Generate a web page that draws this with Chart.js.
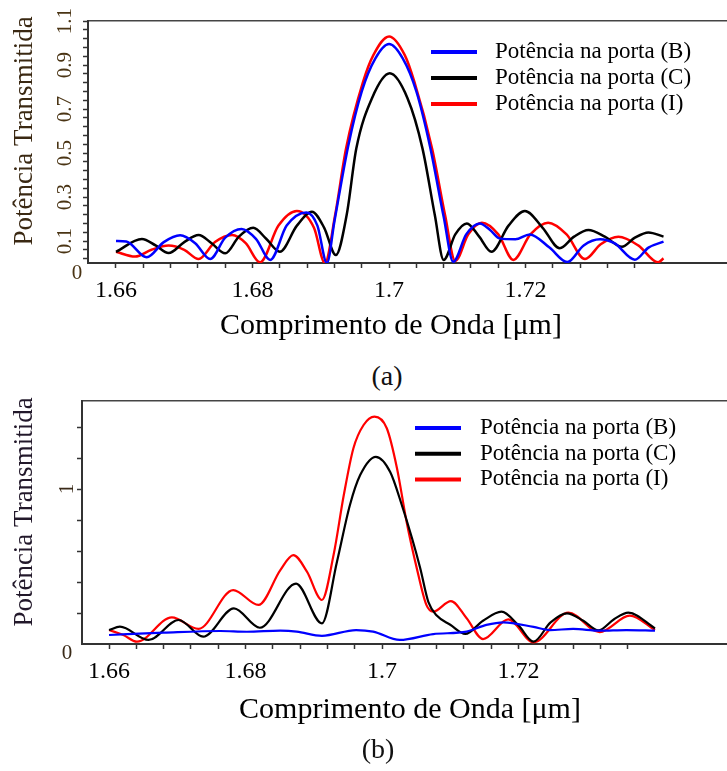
<!DOCTYPE html>
<html>
<head>
<meta charset="utf-8">
<script src="https://cdn.jsdelivr.net/npm/chart.js@4.4.0/dist/chart.umd.min.js"></script>
<style>
  body { margin: 0; background: #fff; width: 727px; height: 771px; position: relative; overflow: hidden; font-family: "Liberation Serif", serif; }
  canvas { position: absolute; left: 0; }
  #chartA { top: 0; }
  #chartB { top: 390px; }
  .cap { position: absolute; font-size: 28px; color: #111; transform: translate(-50%, -50%); }
</style>
</head>
<body>
<canvas id="chartA" width="727" height="350"></canvas>
<div class="cap" style="left:387px; top:376px">(a)</div>
<canvas id="chartB" width="727" height="350"></canvas>
<div class="cap" style="left:378px; top:749px">(b)</div>
<script>
// series labels
const seriesNames = ["Potência na porta (B)", "Potência na porta (C)", "Potência na porta (I)"];

// tick labels
const xTickLabels = ["1.66", "1.68", "1.7", "1.72"];
const yTickLabelsA = ["0.1", "0.3", "0.5", "0.7", "0.9", "1.1"];
const yTickLabelsB = ["1"];

// ---- chart (a) ----
const lambdaA_B = [1.66, 1.6615, 1.6645, 1.667, 1.6694, 1.6716, 1.6738, 1.676, 1.6784, 1.6805, 1.6826, 1.685, 1.6879, 1.6895, 1.6909,
  1.692, 1.694, 1.696, 1.698, 1.700, 1.702, 1.704, 1.706, 1.708, 1.7094, 1.7113, 1.7133, 1.7148, 1.7162, 1.7185, 1.7206, 1.7235,
  1.7261, 1.7285, 1.7309, 1.733, 1.736, 1.738, 1.7402];
const powerA_B = [0.10, 0.098, 0.026, 0.095, 0.126, 0.09, 0.018, 0.115, 0.155, 0.11, 0.014, 0.17, 0.23, 0.17, 0.0,
  0.19, 0.53, 0.78, 0.93, 0.995, 0.93, 0.78, 0.53, 0.21, 0.006, 0.13, 0.18, 0.15, 0.112, 0.108, 0.13, 0.07,
  0.004, 0.08, 0.108, 0.09, 0.015, 0.07, 0.097];

const lambdaA_C = [1.66, 1.6638, 1.6658, 1.6677, 1.670, 1.6721, 1.674, 1.676, 1.678, 1.6801, 1.682, 1.684, 1.6865, 1.6887, 1.6905,
  1.6922, 1.6938, 1.6952, 1.6975, 1.7001, 1.7027, 1.7049, 1.7067, 1.708, 1.7097, 1.7114, 1.7132, 1.715, 1.7175, 1.7199, 1.7225,
  1.725, 1.7271, 1.7292, 1.7316, 1.7341, 1.736, 1.738, 1.7402];
const powerA_C = [0.051, 0.109, 0.08, 0.045, 0.095, 0.127, 0.09, 0.044, 0.12, 0.16, 0.11, 0.051, 0.17, 0.233, 0.16,
  0.036, 0.22, 0.52, 0.749, 0.862, 0.749, 0.52, 0.218, 0.014, 0.13, 0.18, 0.12, 0.051, 0.17, 0.236, 0.16,
  0.067, 0.12, 0.15, 0.12, 0.074, 0.115, 0.139, 0.12];

const lambdaA_I = [1.66, 1.6628, 1.6652, 1.6677, 1.670, 1.6721, 1.6745, 1.677, 1.679, 1.6811, 1.6838, 1.6865, 1.689, 1.6906,
  1.6921, 1.6937, 1.6962, 1.6977, 1.700, 1.7023, 1.7037, 1.7063, 1.7082, 1.7097, 1.7116, 1.7136, 1.716, 1.7182, 1.7207, 1.7233,
  1.726, 1.7287, 1.731, 1.7336, 1.7365, 1.7394, 1.7402];
const powerA_I = [0.051, 0.029, 0.06, 0.079, 0.06, 0.018, 0.095, 0.127, 0.09, 0.003, 0.17, 0.236, 0.16, 0.0,
  0.218, 0.52, 0.824, 0.945, 1.03, 0.945, 0.824, 0.52, 0.218, 0.009, 0.13, 0.183, 0.13, 0.014, 0.13, 0.183,
  0.13, 0.018, 0.085, 0.119, 0.08, 0.003, 0.021];

// ---- chart (b) ----
const lambdaB_B = [1.66, 1.668, 1.6763, 1.6802, 1.6851, 1.6875, 1.6912, 1.6962, 1.6987, 1.7026, 1.7075, 1.7124, 1.7153, 1.7178,
  1.7222, 1.7246, 1.728, 1.7319, 1.7358, 1.74];
const powerB_B = [0.058, 0.073, 0.084, 0.079, 0.086, 0.08, 0.053, 0.09, 0.08, 0.026, 0.064, 0.08, 0.123, 0.14,
  0.11, 0.09, 0.097, 0.086, 0.09, 0.086];

const lambdaB_C = [1.66, 1.6616, 1.6658, 1.6702, 1.6738, 1.6783, 1.6821, 1.6874, 1.6912, 1.6934, 1.6953, 1.6968, 1.6991, 1.7012,
  1.7029, 1.7044, 1.7056, 1.7068, 1.7081, 1.71, 1.7122, 1.7148, 1.7175, 1.72, 1.7222, 1.7247, 1.7271, 1.7295, 1.7317, 1.734,
  1.7361, 1.74];
const powerB_C = [0.09, 0.112, 0.026, 0.155, 0.047, 0.23, 0.105, 0.39, 0.133, 0.531, 0.897, 1.09, 1.208, 1.11,
  0.897, 0.682, 0.489, 0.27, 0.18, 0.124, 0.065, 0.15, 0.209, 0.12, 0.015, 0.14, 0.198, 0.15, 0.088, 0.16,
  0.202, 0.101];

const lambdaB_I = [1.66, 1.6621, 1.6641, 1.6692, 1.6731, 1.6782, 1.6819, 1.6851, 1.687, 1.689, 1.6912, 1.6929, 1.6944, 1.6958,
  1.6973, 1.6989, 1.7007, 1.7022, 1.7036, 1.7051, 1.7065, 1.7075, 1.7101, 1.7124, 1.7148, 1.7185, 1.7222, 1.7273, 1.7319,
  1.7363, 1.74];
const powerB_I = [0.09, 0.058, 0.015, 0.172, 0.097, 0.348, 0.252, 0.477, 0.574, 0.467, 0.284, 0.574, 0.961, 1.262,
  1.413, 1.467, 1.392, 1.133, 0.789, 0.488, 0.252, 0.209, 0.277, 0.166, 0.032, 0.159, 0.011, 0.202, 0.077,
  0.183, 0.09];

const colors = ["#0000ff", "#000000", "#ff0000"];
const FONT = "'Liberation Serif', 'Times New Roman', serif";

function stepTicks(from, to, step) {
  const out = [];
  for (let v = from; v <= to + 1e-9; v += step) out.push({ value: +v.toFixed(4) });
  return out;
}

function labelFrom(list) {
  return value => list.find(l => Math.abs(parseFloat(l) - value) < 1e-6) || "";
}

// draws the series key inside the plot
const seriesKey = {
  id: "seriesKey",
  afterDraw(chart, args, opts) {
    const ctx = chart.ctx;
    ctx.save();
    ctx.font = opts.font;
    ctx.textBaseline = "middle";
    ctx.fillStyle = "#000";
    chart.data.datasets.forEach((ds, i) => {
      const y = opts.y + i * opts.gap;
      ctx.strokeStyle = ds.borderColor;
      ctx.lineWidth = 4;
      ctx.beginPath();
      ctx.moveTo(opts.x, y);
      ctx.lineTo(opts.x + 46, y);
      ctx.stroke();
      ctx.fillText(ds.label, opts.textX, y);
    });
    ctx.restore();
  }
};

// axis titles and the corner zero
const axisText = {
  id: "axisText",
  afterDraw(chart, args, opts) {
    const ctx = chart.ctx;
    ctx.save();
    ctx.textAlign = "center";
    ctx.textBaseline = "middle";
    ctx.fillStyle = opts.yColor;
    ctx.font = "27px " + FONT;
    ctx.translate(opts.yTitle[0], opts.yTitle[1]);
    ctx.rotate(-Math.PI / 2);
    ctx.fillText("Potência Transmitida", 0, 0);
    ctx.restore();

    ctx.save();
    ctx.textAlign = "center";
    ctx.textBaseline = "middle";
    ctx.fillStyle = "#000";
    ctx.font = "30px " + FONT;
    ctx.fillText("Comprimento de Onda [μm]", opts.xTitle[0], opts.xTitle[1]);
    ctx.fillStyle = opts.tickColor;
    ctx.font = "21px " + FONT;
    ctx.fillText("0", opts.zero[0], opts.zero[1]);
    ctx.restore();
  }
};

function makeChart(id, cfg) {
  const xs = [cfg.xB, cfg.xC, cfg.xI];
  const ys = [cfg.yB, cfg.yC, cfg.yI];
  return new Chart(document.getElementById(id), {
    type: "line",
    data: {
      datasets: seriesNames.map((name, i) => ({
        label: name,
        data: xs[i].map((x, j) => ({ x: x, y: ys[i][j] })),
        borderColor: colors[i],
        borderWidth: cfg.lineWidth,
        pointRadius: 0,
        fill: false,
        cubicInterpolationMode: "monotone"
      }))
    },
    options: {
      responsive: false,
      animation: false,
      layout: { padding: { left: 0, right: 0, top: cfg.top, bottom: 0 } },
      plugins: {
        legend: { display: false },
        tooltip: { enabled: false },
        seriesKey: cfg.key,
        axisText: cfg.text
      },
      scales: {
        x: {
          type: "linear",
          min: cfg.xMin,
          max: cfg.xMax,
          afterBuildTicks: s => { s.ticks = stepTicks(1.66, 1.736, 0.004); },
          afterFit: s => { s.height = cfg.xAxisHeight; },
          ticks: { callback: labelFrom(xTickLabels), autoSkip: false, maxRotation: 0, color: "#000", padding: 8, font: { family: FONT, size: 24 } },
          grid: { drawOnChartArea: false, tickLength: 5, color: "#333", tickWidth: 1.5 },
          border: { color: "#333", width: 2 }
        },
        xTop: {
          type: "linear",
          position: "top",
          min: cfg.xMin,
          max: cfg.xMax,
          afterFit: s => { s.height = 0; },
          ticks: { display: false },
          grid: { display: false, drawTicks: false },
          border: { color: "#444", width: 1.5 }
        },
        y: {
          min: 0,
          max: cfg.yMax,
          afterBuildTicks: s => { s.ticks = stepTicks(cfg.yTickFrom, cfg.yMaxTick, cfg.yStep); },
          afterFit: s => { s.width = cfg.left; s.paddingTop = 0; s.paddingBottom = 0; },
          ticks: { callback: labelFrom(cfg.yLabels), autoSkip: false, minRotation: 90, maxRotation: 90, crossAlign: "center", padding: 4, color: cfg.text.tickColor, font: { family: FONT, size: 21 } },
          grid: { drawOnChartArea: false, tickLength: 5, color: "#333", tickWidth: 1.5 },
          border: { color: "#333", width: 2 }
        }
      }
    },
    plugins: [seriesKey, axisText]
  });
}

makeChart("chartA", {
  xB: lambdaA_B, yB: powerA_B, xC: lambdaA_C, yC: powerA_C, xI: lambdaA_I, yI: powerA_I,
  xMin: 1.6559, xMax: 1.7495, yMax: 1.1, yTickFrom: 0.02, yMaxTick: 1.1, yStep: 0.04, yLabels: yTickLabelsA,
  top: 21, left: 88, xAxisHeight: 87, lineWidth: 2.5,
  key: { x: 431, y: 52, gap: 26, textX: 495, font: "23px " + FONT },
  text: { yTitle: [25, 131], xTitle: [391, 326], zero: [77, 273], yColor: "#3a2812", tickColor: "#4a3414" }
});

makeChart("chartB", {
  xB: lambdaB_B, yB: powerB_B, xC: lambdaB_C, yC: powerB_C, xI: lambdaB_I, yI: powerB_I,
  xMin: 1.65604, xMax: 1.75055, yMax: 1.568, yTickFrom: 0.2, yMaxTick: 1.4, yStep: 0.2, yLabels: yTickLabelsB,
  top: 11, left: 82, xAxisHeight: 96, lineWidth: 2.2,
  key: { x: 415, y: 38, gap: 25.7, textX: 480, font: "23px " + FONT },
  text: { yTitle: [25, 122], xTitle: [410, 320], zero: [67, 263], yColor: "#22182a", tickColor: "#3a2a18" }
});
</script>
</body>
</html>
